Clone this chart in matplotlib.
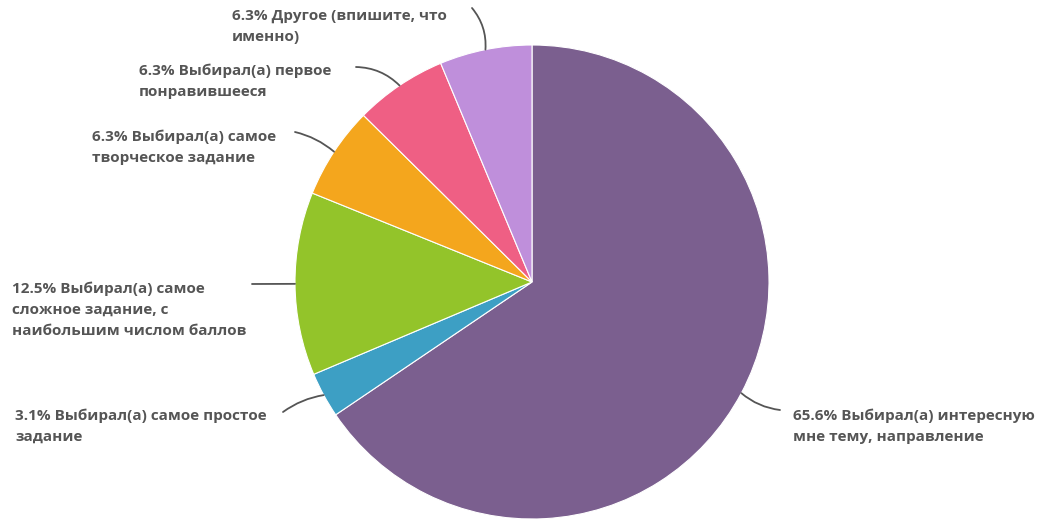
import matplotlib.pyplot as plt
import numpy as np

# ---- data ----
shares = [65.6, 3.1, 12.5, 6.3, 6.3, 6.3]
answers = [
    "Выбирал(а) интересную\nмне тему, направление",
    "Выбирал(а) самое простое\nзадание",
    "Выбирал(а) самое\nсложное задание, с\nнаибольшим числом баллов",
    "Выбирал(а) самое\nтворческое задание",
    "Выбирал(а) первое\nпонравившееся",
    "Другое (впишите, что\nименно)",
]
colors = ["#7b5f8f", "#3d9fc4", "#93c42a", "#f4a61d", "#ef5f84", "#bf8fdb"]

# ---- layout (pixel coords, y measured from top) ----
W, H = 1043, 520
cx, cy, r = 532, 282, 237
# text anchor: left x, centre of first line
text_pos = [(793, 414), (15, 414), (12, 287), (92, 135), (139, 69), (232, 14)]
# where each leader line starts (text side)
line_start = [(780, 410), (283, 412), (252, 284), (295, 132), (356, 67), (472, 8)]
line_rad = [-0.15, -0.12, 0.0, -0.12, -0.2, -0.2]

plt.rcParams['font.family'] = ['Open Sans', 'DejaVu Sans']

fig = plt.figure(figsize=(W / 100, H / 100), dpi=100)
ax = fig.add_axes([0, 0, 1, 1])

wedges, _ = ax.pie(shares, colors=colors, startangle=90, counterclock=False,
                   center=(cx, H - cy), radius=r,
                   wedgeprops=dict(edgecolor="white", linewidth=0.8))
ax.set_xlim(0, W)
ax.set_ylim(0, H)
ax.set_aspect("equal")
ax.axis("off")

for w, p, lab, (tx, ty), (sx, sy), rad in zip(wedges, shares, answers,
                                              text_pos, line_start, line_rad):
    mid = np.deg2rad((w.theta1 + w.theta2) / 2)
    ex = cx + r * np.cos(mid)
    ey = (H - cy) + r * np.sin(mid)
    ax.annotate("", xy=(ex, ey), xytext=(sx, H - sy),
                arrowprops=dict(arrowstyle="-", color="#555555", lw=1.3,
                                shrinkA=0, shrinkB=0,
                                connectionstyle=f"arc3,rad={rad}"))
    ax.text(tx, H - ty + 5, f"{p}% {lab}", ha="left", va="top",
            fontsize=11, fontweight="bold", color="#555555", linespacing=1.6)

fig.savefig("out.png", dpi=100)
